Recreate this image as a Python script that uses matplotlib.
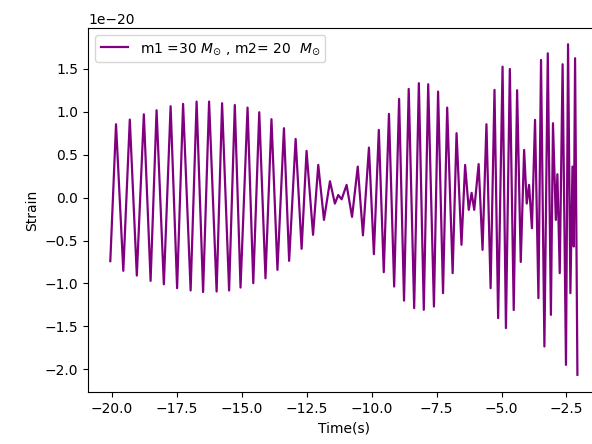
import matplotlib
matplotlib.use('Agg')
import matplotlib.pyplot as plt
import numpy as np

# peaks / troughs of the strain curve (strain in units of 1e-20)
time = [-20.05, -19.83, -19.55, -19.30, -19.03, -18.76, -18.50, -18.27, -17.99, -17.73,
        -17.48, -17.25, -16.96, -16.73, -16.48, -16.25, -15.96, -15.75, -15.48, -15.26,
        -15.04, -14.77, -14.55, -14.32, -14.08, -13.85, -13.62, -13.37, -13.17, -12.92,
        -12.69, -12.50, -12.25, -12.05, -11.83, -11.60, -11.41, -11.28, -11.15, -10.96,
        -10.75, -10.53, -10.33, -10.10, -9.91, -9.72, -9.53, -9.33, -9.13, -8.94,
        -8.75, -8.57, -8.36, -8.18, -7.99, -7.82, -7.60, -7.44, -7.25, -7.09,
        -6.88, -6.73, -6.54, -6.40, -6.26, -6.15, -6.05, -5.88, -5.73, -5.58,
        -5.42, -5.27, -5.13, -4.96, -4.83, -4.68, -4.53, -4.40, -4.26, -4.13,
        -4.03, -3.94, -3.83, -3.71, -3.58, -3.48, -3.35, -3.22, -3.10, -3.02,
        -2.91, -2.85, -2.76, -2.65, -2.52, -2.44, -2.35, -2.27, -2.22, -2.17,
        -2.08]
strain = [-0.74, 0.854, -0.853, 0.908, -0.908, 0.97, -0.97, 1.017, -1.01, 1.064,
          -1.055, 1.091, -1.082, 1.118, -1.10, 1.118, -1.094, 1.099, -1.082, 1.078,
          -1.048, 1.048, -0.997, 0.994, -0.94, 0.913, -0.842, 0.808, -0.737, 0.683,
          -0.597, 0.544, -0.434, 0.381, -0.26, 0.19, -0.07, 0.03, -0.02, 0.148,
          -0.225, 0.361, -0.44, 0.582, -0.659, 0.788, -0.869, 0.975, -1.036, 1.149,
          -1.20, 1.265, -1.288, 1.332, -1.307, 1.32, -1.269, 1.234, -1.113, 1.048,
          -0.88, 0.75, -0.55, 0.38, -0.143, 0.055, -0.143, 0.39, -0.609, 0.854,
          -1.055, 1.254, -1.404, 1.525, -1.52, 1.498, -1.31, 1.25, -0.75, 0.555,
          -0.07, 0.148, -0.357, 0.905, -1.171, 1.603, -1.734, 1.68, -1.366, 0.866,
          -0.26, 0.272, -0.88, 1.553, -1.948, 1.786, -1.113, 0.361, -0.57, 1.623,
          -2.064]

t = np.array(time)
h = np.array(strain) * 1e-20

fig = plt.figure(figsize=(5.92, 4.44), dpi=100)
ax = fig.add_axes([0.149, 0.116, 0.865, 0.820])
ax.plot(t, h, color='purple', lw=1.6, label=r'm1 =30 $M_{\odot}$ , m2= 20  $M_{\odot}$')
ax.set_xlim(-20.9, -1.2)
ax.set_ylim(-2.27e-20, 1.97e-20)
ax.set_xlabel('Time(s)')
ax.set_ylabel('Strain')
ax.legend(loc='upper left')

fig.savefig('out.png', dpi=100)
plt.close(fig)
